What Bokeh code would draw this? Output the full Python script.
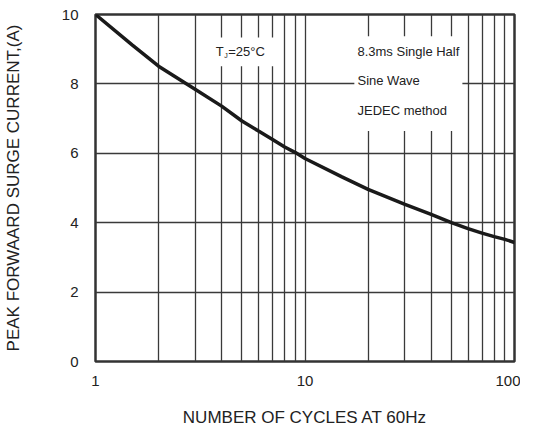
from bokeh.plotting import figure
from bokeh.models import Range1d, FixedTicker, BoxAnnotation, Label
from bokeh.embed import file_html
from bokeh.resources import INLINE

# Data
cycles = [1, 1.5, 2, 3, 4, 5, 6, 7, 8, 9, 10, 15, 20, 30, 40, 50, 60, 70, 80, 90, 100]
surge_current = [10.0, 9.12, 8.51, 7.84, 7.36, 6.93, 6.64, 6.40, 6.18, 6.02, 5.85,
                 5.32, 4.96, 4.53, 4.24, 4.0, 3.83, 3.70, 3.60, 3.52, 3.43]
x_major_ticks = [1, 10, 100]
x_grid_ticks = [2, 3, 4, 5, 6, 7, 8, 9, 10, 20, 30, 40, 50, 60, 70, 80, 90]
y_ticks = [0, 2, 4, 6, 8, 10]
y_grid_ticks = [2, 4, 6, 8]

FONT = "Liberation Sans"
TXT = "#222222"

p = figure(width=520, height=429, x_axis_type="log",
           x_range=Range1d(1, 100), y_range=Range1d(0, 10),
           output_backend="svg", toolbar_location=None)
p.min_border_left = 87
p.min_border_right = 6
p.min_border_top = 14
p.min_border_bottom = 67

p.outline_line_color = "#333333"
p.outline_line_width = 2.5
p.outline_line_alpha = 1.0

# grids
p.xgrid.ticker = FixedTicker(ticks=x_grid_ticks)
p.ygrid.ticker = FixedTicker(ticks=y_grid_ticks)
for g in (p.xgrid, p.ygrid):
    g.grid_line_color = "#3a3a3a"
    g.grid_line_width = 1.3
    g.grid_line_alpha = 1.0

# axes
p.xaxis.ticker = FixedTicker(ticks=x_major_ticks)
p.yaxis.ticker = FixedTicker(ticks=y_ticks)
for ax in (p.xaxis, p.yaxis):
    ax.axis_line_color = None
    ax.major_tick_line_color = None
    ax.minor_tick_line_color = None
    ax.major_label_text_font = FONT
    ax.major_label_text_font_size = "15px"
    ax.major_label_text_color = TXT
    ax.axis_label_text_font = FONT
    ax.axis_label_text_font_size = "17px"
    ax.axis_label_text_font_style = "normal"
    ax.axis_label_text_color = TXT
p.xaxis.major_label_overrides = {1: "1", 10: "10", 100: "100"}
p.xaxis.major_label_standoff = 8
p.yaxis.major_label_standoff = 11
p.xaxis.axis_label = "NUMBER OF CYCLES AT 60Hz"
p.yaxis.axis_label = "PEAK FORWAARD SURGE CURRENT,(A)"
p.xaxis.axis_label_standoff = 19
p.yaxis.axis_label_standoff = 36

# curve
p.line(cycles, surge_current, line_color="#1a1a1a", line_width=3.5)

# white boxes behind annotation texts
box1 = BoxAnnotation(left=3.66, right=7.15, bottom=8.51, top=9.34,
                     fill_color="white", fill_alpha=1.0, line_color=None)
box2 = BoxAnnotation(left=17.2, right=56.4, bottom=6.64, top=9.37,
                     fill_color="white", fill_alpha=1.0, line_color=None)
p.add_layout(box1)
p.add_layout(box2)

def lab(x, y, text, size="13px", xo=0, yo=0, align="left"):
    p.add_layout(Label(x=x, y=y, text=text, x_offset=xo, y_offset=yo,
                       text_font=FONT, text_font_size=size, text_color=TXT,
                       text_align=align, text_baseline="middle"))

lab(3.75, 8.93, "T", xo=0)
lab(3.75, 8.93, "J", size="7px", xo=8.5, yo=-4)
lab(3.75, 8.93, "=25°C", xo=12.5)

lab(17.8, 8.93, "8.3ms Single Half")
lab(17.8, 8.10, "Sine Wave")
lab(17.8, 7.23, "JEDEC method")

open("out.html", "w").write(file_html(p, INLINE))
